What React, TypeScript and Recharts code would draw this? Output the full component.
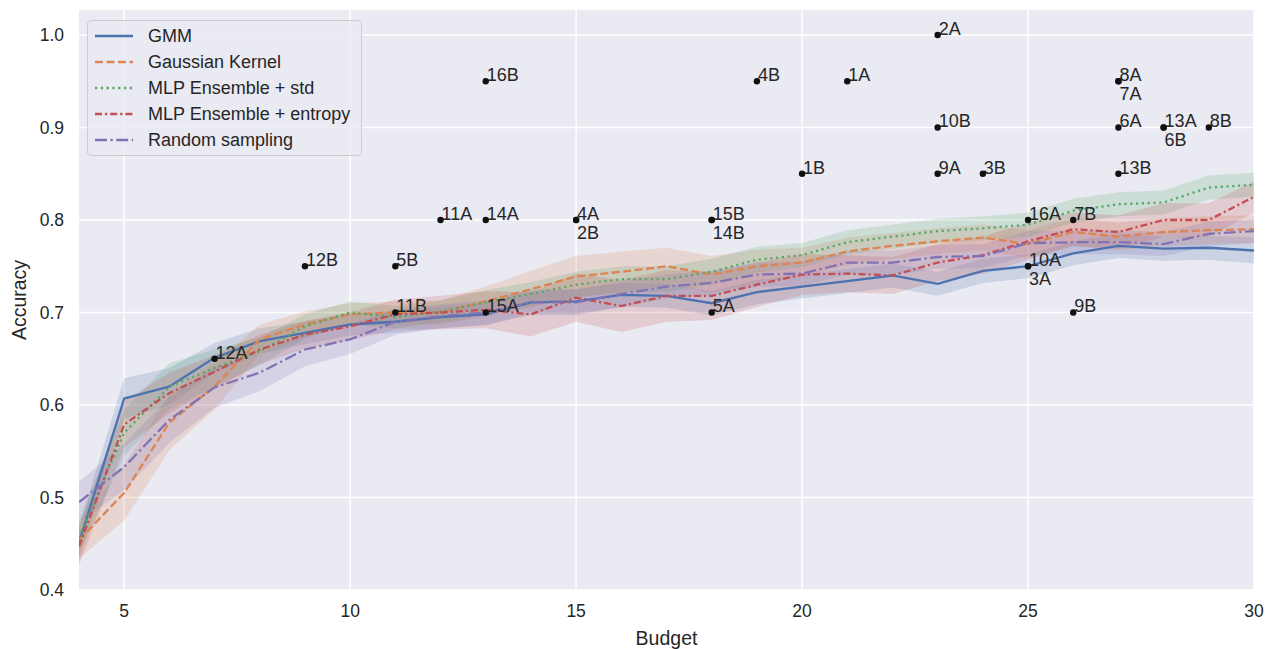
import { ComposedChart, Line, Area, Scatter, XAxis, YAxis, CartesianGrid } from "recharts"

const budgets = [4, 5, 6, 7, 8, 9, 10, 11, 12, 13, 14, 15, 16, 17, 18, 19, 20, 21, 22, 23, 24, 25, 26, 27, 28, 29, 30]

const gmm = [0.451, 0.607, 0.62, 0.651, 0.669, 0.678, 0.687, 0.69, 0.695, 0.698, 0.711, 0.712, 0.719, 0.718, 0.71, 0.722, 0.728, 0.734, 0.74, 0.731, 0.745, 0.75, 0.764, 0.772, 0.769, 0.77, 0.767]
const gaussian = [0.454, 0.505, 0.581, 0.62, 0.671, 0.687, 0.698, 0.7, 0.7, 0.712, 0.725, 0.739, 0.744, 0.75, 0.741, 0.75, 0.754, 0.766, 0.772, 0.777, 0.781, 0.774, 0.787, 0.782, 0.787, 0.789, 0.79]
const mlpStd = [0.457, 0.57, 0.62, 0.64, 0.658, 0.685, 0.7, 0.695, 0.701, 0.711, 0.72, 0.73, 0.736, 0.736, 0.744, 0.757, 0.762, 0.776, 0.782, 0.788, 0.791, 0.795, 0.81, 0.817, 0.819, 0.835, 0.838]
const mlpEntropy = [0.447, 0.579, 0.613, 0.636, 0.66, 0.676, 0.685, 0.698, 0.7, 0.703, 0.698, 0.716, 0.707, 0.718, 0.718, 0.73, 0.741, 0.742, 0.74, 0.754, 0.762, 0.777, 0.79, 0.787, 0.8, 0.8, 0.825]
const randomSampling = [0.495, 0.533, 0.584, 0.619, 0.635, 0.66, 0.671, 0.69, 0.696, 0.7, 0.711, 0.711, 0.72, 0.728, 0.732, 0.741, 0.742, 0.754, 0.754, 0.76, 0.761, 0.775, 0.776, 0.776, 0.774, 0.785, 0.788]

// half-width of the shaded confidence band
const gmmSpread = [0.018, 0.022, 0.02, 0.016, 0.014, 0.012, 0.012, 0.012, 0.012, 0.012, 0.012, 0.013, 0.013, 0.013, 0.013, 0.013, 0.013, 0.013, 0.013, 0.013, 0.013, 0.013, 0.013, 0.013, 0.013, 0.013, 0.014]
const gaussianSpread = [0.02, 0.03, 0.03, 0.025, 0.016, 0.014, 0.012, 0.012, 0.013, 0.016, 0.02, 0.022, 0.022, 0.02, 0.02, 0.018, 0.016, 0.015, 0.014, 0.014, 0.014, 0.015, 0.015, 0.015, 0.015, 0.015, 0.015]
const mlpStdSpread = [0.018, 0.025, 0.025, 0.02, 0.015, 0.013, 0.012, 0.012, 0.012, 0.013, 0.013, 0.014, 0.014, 0.014, 0.014, 0.014, 0.013, 0.013, 0.013, 0.013, 0.013, 0.013, 0.013, 0.013, 0.013, 0.013, 0.013]
const mlpEntropySpread = [0.02, 0.025, 0.022, 0.018, 0.016, 0.015, 0.015, 0.016, 0.018, 0.02, 0.024, 0.026, 0.028, 0.028, 0.026, 0.024, 0.022, 0.02, 0.02, 0.02, 0.02, 0.02, 0.018, 0.018, 0.018, 0.018, 0.017]
const randomSpread = [0.022, 0.025, 0.025, 0.022, 0.02, 0.018, 0.016, 0.014, 0.013, 0.013, 0.014, 0.014, 0.014, 0.013, 0.013, 0.013, 0.013, 0.013, 0.013, 0.013, 0.013, 0.013, 0.013, 0.013, 0.013, 0.013, 0.013]

const pointBudget = [7, 9, 11, 11, 12, 13, 13, 13, 15, 15, 18, 18, 18, 19, 20, 21, 23, 23, 23, 24, 25, 25, 25, 26, 26, 27, 27, 27, 27, 28, 28, 29]
const pointAcc = [0.65, 0.75, 0.75, 0.7, 0.8, 0.8, 0.95, 0.7, 0.8, 0.8, 0.8, 0.8, 0.7, 0.95, 0.85, 0.95, 1.0, 0.9, 0.85, 0.85, 0.8, 0.75, 0.75, 0.8, 0.7, 0.95, 0.95, 0.9, 0.85, 0.9, 0.9, 0.9]
const pointLabel = ["12A", "12B", "5B", "11B", "11A", "14A", "16B", "15A", "4A", "2B", "15B", "14B", "5A", "4B", "1B", "1A", "2A", "10B", "9A", "3B", "16A", "10A", "3A", "7B", "9B", "8A", "7A", "6A", "13B", "13A", "6B", "8B"]

const xTicks = [5, 10, 15, 20, 25, 30]
const yTicks = [0.4, 0.5, 0.6, 0.7, 0.8, 0.9, 1.0]

const series = [
  { key: "gmm", name: "GMM", values: gmm, spread: gmmSpread, color: "#4C72B0", dash: undefined },
  { key: "gaussian", name: "Gaussian Kernel", values: gaussian, spread: gaussianSpread, color: "#DD8452", dash: "8 3.5" },
  { key: "mlpStd", name: "MLP Ensemble + std", values: mlpStd, spread: mlpStdSpread, color: "#55A868", dash: "2.2 3.6" },
  { key: "mlpEntropy", name: "MLP Ensemble + entropy", values: mlpEntropy, spread: mlpEntropySpread, color: "#C44E52", dash: "7 3 2.2 3" },
  { key: "random", name: "Random sampling", values: randomSampling, spread: randomSpread, color: "#8172B3", dash: "12 3.5 2.2 3.5" },
]

const rows = budgets.map((b, i) => {
  const row: any = { budget: b }
  series.forEach((s) => {
    row[s.key] = s.values[i]
    row[s.key + "Band"] = [s.values[i] - s.spread[i], s.values[i] + s.spread[i]]
  })
  return row
})

const points = pointLabel.map((label, i) => {
  let stack = 0
  for (let j = 0; j < i; j++) {
    if (pointBudget[j] === pointBudget[i] && pointAcc[j] === pointAcc[i]) stack++
  }
  return { budget: pointBudget[i], acc: pointAcc[i], label, stack }
})

const textColor = "#262626"
const font = "'Liberation Sans', Arial, sans-serif"

const LabeledDot = (props: any) => {
  const { cx, cy, payload } = props
  return (
    <g>
      <text x={cx + 1} y={cy + payload.stack * 19} fontSize={18} fill={textColor} fontFamily={font}>
        {payload.label}
      </text>
      <circle cx={cx} cy={cy} r={3.2} fill="#111" />
    </g>
  )
}

export default function App() {
  return (
    <div style={{ position: "absolute", left: 0, top: 0, width: 1267, height: 649, background: "#fff", fontFamily: font }}>
      <ComposedChart width={1267} height={649} data={rows} margin={{ top: 10, right: 13, left: 0, bottom: 0 }}>
        <CartesianGrid fill="#EAEAF2" stroke="#fff" strokeWidth={1.5} horizontalValues={yTicks} verticalValues={xTicks} />
        <XAxis
          dataKey="budget"
          type="number"
          domain={[4, 30]}
          ticks={xTicks}
          axisLine={false}
          tickLine={false}
          tickSize={0}
          tickMargin={15}
          height={59}
          tick={{ fill: textColor, fontSize: 17.5, fontFamily: font }}
          label={{ value: "Budget", position: "insideBottom", offset: 4, fill: textColor, fontSize: 19.5, fontFamily: font }}
          allowDataOverflow
        />
        <YAxis
          type="number"
          domain={[0.4, 1.027]}
          ticks={yTicks}
          axisLine={false}
          tickLine={false}
          tickSize={0}
          tickMargin={15}
          width={79}
          tickFormatter={(v: number) => v.toFixed(1)}
          tick={{ fill: textColor, fontSize: 17.5, fontFamily: font }}
          label={{ value: "Accuracy", angle: -90, position: "insideLeft", offset: 19, fill: textColor, fontSize: 19.5, fontFamily: font, style: { textAnchor: "middle" } }}
          allowDataOverflow
        />
        {series.map((s) => (
          <Area
            key={s.key + "Band"}
            dataKey={s.key + "Band"}
            type="linear"
            stroke="none"
            fill={s.color}
            fillOpacity={0.2}
            isAnimationActive={false}
            legendType="none"
          />
        ))}
        {series.map((s) => (
          <Line
            key={s.key}
            dataKey={s.key}
            name={s.name}
            type="linear"
            stroke={s.color}
            strokeWidth={2.3}
            strokeDasharray={s.dash}
            dot={false}
            activeDot={false}
            isAnimationActive={false}
          />
        ))}
        <Scatter data={points} dataKey="acc" shape={LabeledDot} isAnimationActive={false} />
      </ComposedChart>
      <div
        style={{
          position: "absolute",
          left: 87,
          top: 20,
          width: 273,
          height: 134,
          background: "rgba(234,234,242,0.8)",
          border: "1px solid #cccccc",
          borderRadius: 4,
        }}
      >
        {series.map((s, i) => (
          <div key={s.key} style={{ position: "absolute", left: 0, top: 3 + i * 26, height: 26, display: "flex", alignItems: "center" }}>
            <svg width={60} height={26} style={{ display: "block" }}>
              <line x1={7} x2={45} y1={12} y2={12} stroke={s.color} strokeWidth={2.3} strokeDasharray={s.dash} />
            </svg>
            <span style={{ fontSize: 18, color: textColor, whiteSpace: "nowrap", marginTop: -2 }}>{s.name}</span>
          </div>
        ))}
      </div>
    </div>
  )
}
